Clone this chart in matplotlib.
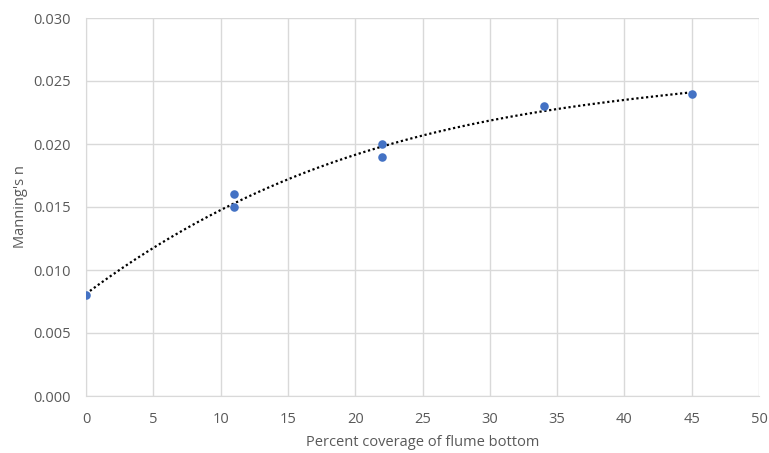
import numpy as np
import matplotlib
matplotlib.use("Agg")
import matplotlib.pyplot as plt

# data
coverage = [0, 11, 11, 22, 22, 34, 45]
manning_n = [0.008, 0.016, 0.015, 0.020, 0.019, 0.023, 0.024]

x_ticks = [0, 5, 10, 15, 20, 25, 30, 35, 40, 45, 50]
y_ticks = [0.000, 0.005, 0.010, 0.015, 0.020, 0.025, 0.030]

GRAY_TEXT = '#595959'
GRID = '#d9d9d9'
BLUE = '#4472c4'

plt.rcParams['font.family'] = ['Open Sans', 'DejaVu Sans']

fig = plt.figure(figsize=(7.69, 4.53), dpi=100)
ax = fig.add_axes([86/769, 1-396/453, (759-86)/769, (396-18)/453])

# third order polynomial trendline, as in the spreadsheet
coef = np.polyfit(coverage, manning_n, 3)
xs = np.linspace(min(coverage), max(coverage), 200)
ax.plot(xs, np.polyval(coef, xs), color='black', lw=1.6, ls=(0, (1, 1.2)), zorder=2)

ax.scatter(coverage, manning_n, s=38, color=BLUE, zorder=3, linewidths=0)

ax.set_xlim(0, 50)
ax.set_ylim(0, 0.030)
ax.set_xticks(x_ticks)
ax.set_yticks(y_ticks)
ax.set_yticklabels(['%.3f' % v for v in y_ticks])
ax.grid(True, color=GRID, lw=1)
ax.set_axisbelow(True)
for s in ax.spines.values():
    s.set_visible(False)
ax.spines['bottom'].set_visible(True)
ax.spines['bottom'].set_color(GRID)
ax.spines['left'].set_visible(True)
ax.spines['left'].set_color(GRID)
ax.tick_params(length=0, labelsize=10.5, labelcolor=GRAY_TEXT)
ax.tick_params(axis='x', pad=11.5)
ax.tick_params(axis='y', pad=11)

ax.set_xlabel('Percent coverage of flume bottom', fontsize=10.5, color=GRAY_TEXT, labelpad=5.5)
ax.set_ylabel("Manning's n", fontsize=10.5, color=GRAY_TEXT, labelpad=4)

fig.savefig('out.png', dpi=100)
